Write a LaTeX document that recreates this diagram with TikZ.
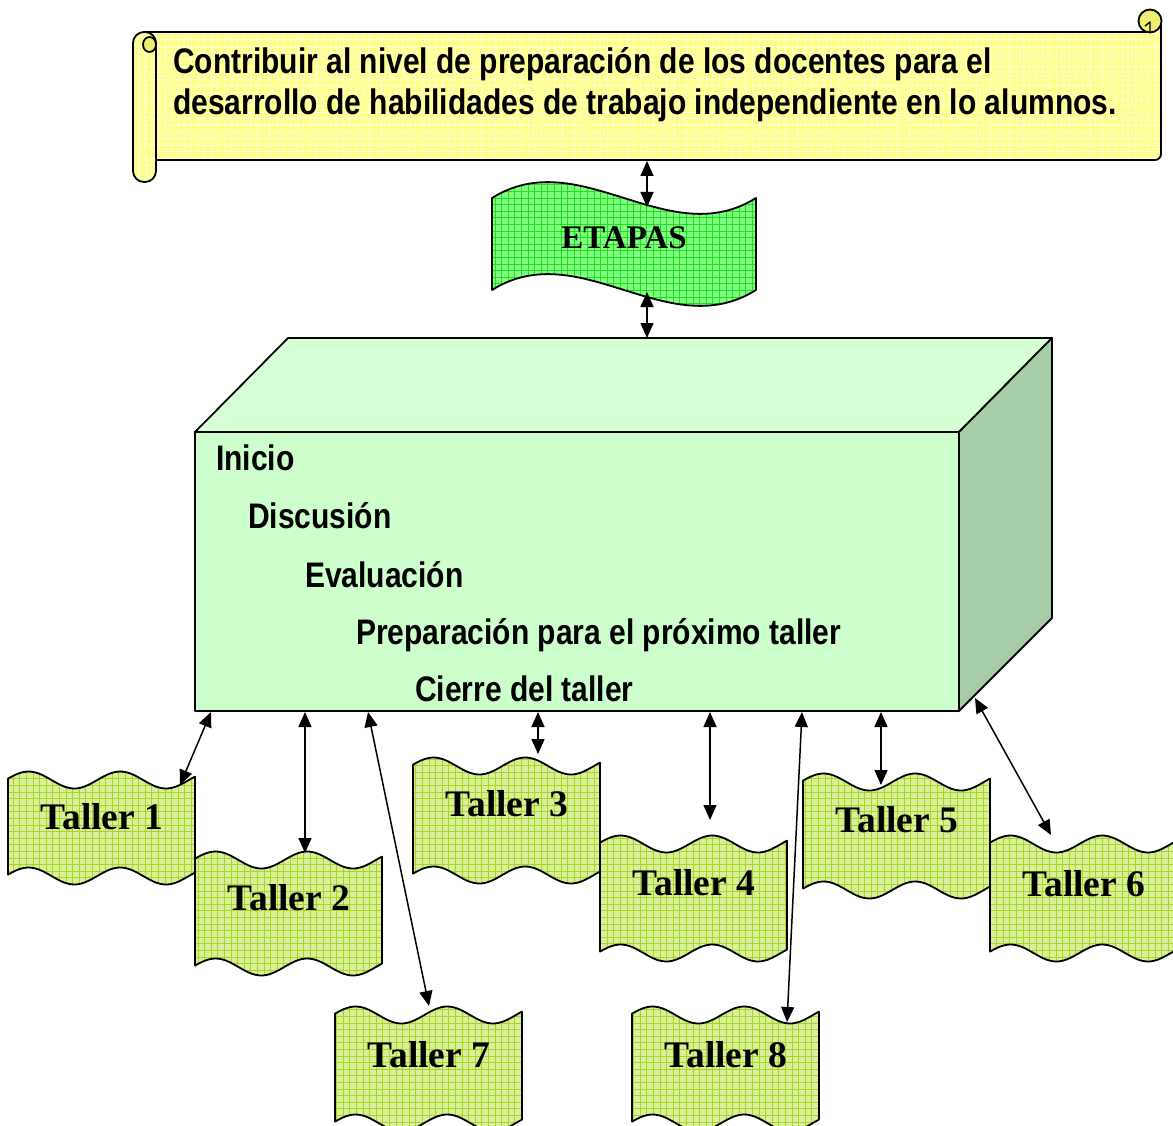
\documentclass[tikz,border=0pt]{standalone}
\usepackage{fontspec}
\usetikzlibrary{arrows.meta}
\newfontfamily\narrowsans[FakeStretch=0.845]{Liberation Sans}
\newfontfamily\serifbold{Liberation Serif}
\definecolor{scrollbase}{HTML}{FFFF8C}
\definecolor{scrollgrid}{HTML}{FFFFD2}
\definecolor{scrollroll}{HTML}{EEEE70}
\definecolor{etapasbase}{HTML}{80FF80}
\definecolor{etapasgrid}{HTML}{22DD22}
\definecolor{tallerbase}{HTML}{D8F09C}
\definecolor{tallergridc}{HTML}{A8D422}
\definecolor{boxfront}{HTML}{CCFFCC}
\definecolor{boxtop}{HTML}{D6FFD6}
\definecolor{boxside}{HTML}{A6CDA6}
\newcommand\tallerdoc[6]{%
  \begin{scope}
    \clip plot[domain=0:1,samples=50] ({#1+187*\x},{#2-wv(\x)}) -- plot[domain=1:0,samples=50] ({#1+187*\x},{#3-wv(\x)}) -- cycle;
    \fill[tallerbase] (#1-2,#2-20) rectangle (#1+190,#3+20);
    \draw[tallergridc,line width=0.7,step=6.6pt] (#1-2,#2-20) grid (#1+190,#3+20);
  \end{scope}
  \draw[outline] plot[domain=0:1,samples=50] ({#1+187*\x},{#2-wv(\x)}) -- plot[domain=1:0,samples=50] ({#1+187*\x},{#3-wv(\x)}) -- cycle;
  \node[tallertext] (#4) at (#1+94,#6) {#5};
}
\begin{document}
\begin{tikzpicture}[x=1pt,y=-1pt,line join=round,
  declare function={wv(\t)=8.5*sin(360*(\t-0.11)/0.49+90);},
  outline/.style={draw=black,line width=1.8},
  link/.style={draw=black,line width=1.5,{Triangle[length=15pt,width=13pt]}-{Triangle[length=15pt,width=13pt]}},
  boxtext/.style={anchor=base west,inner sep=0pt,font=\narrowsans\bfseries\fontsize{35.5}{40}\selectfont},
  tallertext/.style={anchor=base,inner sep=0pt,font=\serifbold\bfseries\fontsize{37.5}{42}\selectfont}]
\useasboundingbox (0,0) rectangle (1173,1126);
\clip (0,0) rectangle (1173,1126);
\fill[white] (0,0) rectangle (1173,1126);

% ---------- scroll banner ----------
\begin{scope}
  \clip (145,32) -- (1161,32) -- (1161,154) arc[start angle=0,end angle=90,radius=6] -- (145,160) -- cycle;
  \fill[scrollbase] (140,20) rectangle (1165,165);
  \draw[scrollgrid,line width=0.8,step=6.6pt] (140,20) grid (1165,165);
\end{scope}
\draw[outline] (145,32) -- (1150,32);
\draw[outline] (1161,21) -- (1161,154) arc[start angle=0,end angle=90,radius=6] -- (150,160);
\draw[outline,fill=scrollroll] (1150,21) circle[radius=11.5];
\draw[outline,line width=1.4] (1145,26) -- (1150,22) -- (1150,32);
% left roll
\begin{scope}
  \clip[rounded corners=11] (133,32) rectangle (156,182);
  \fill[scrollbase] (130,30) rectangle (160,185);
  \draw[scrollgrid,line width=0.8,step=6.6pt] (130,30) grid (160,185);
\end{scope}
\draw[outline,rounded corners=11] (133,32) rectangle (156,182);
\draw[outline,fill=scrollroll] (149.5,44.5) ellipse[x radius=6.5,y radius=7.5];
\node[boxtext] (goal1) at (173,74) {Contribuir al nivel de preparación de los docentes para el};
\node[boxtext] (goal2) at (173,115) {desarrollo de habilidades de trabajo independiente en lo alumnos.};

% ---------- ETAPAS ----------
\begin{scope}
  \clip (492,198) .. controls (580,143) and (668,253) .. (756,198) -- (756,290) .. controls (668,345) and (580,235) .. (492,290) -- cycle;
  \fill[etapasbase] (488,170) rectangle (760,315);
  \draw[etapasgrid,line width=0.7,step=6.6pt] (488,170) grid (760,315);
\end{scope}
\draw[outline] (492,198) .. controls (580,143) and (668,253) .. (756,198) -- (756,290) .. controls (668,345) and (580,235) .. (492,290) -- cycle;
\node[anchor=base,inner sep=0pt,font=\serifbold\bfseries\fontsize{33}{38}\selectfont] (etapas) at (624,249) {ETAPAS};

% ---------- 3D box ----------
\draw[outline,fill=boxtop] (195,432) -- (288,338) -- (1052,338) -- (959,432) -- cycle;
\draw[outline,fill=boxside] (959,432) -- (1052,338) -- (1052,618) -- (959,711) -- cycle;
\draw[outline,fill=boxfront] (195,432) rectangle (959,711);
\node[boxtext] (inicio) at (216,470) {Inicio};
\node[boxtext] (discusion) at (248,528) {Discusión};
\node[boxtext] (evaluacion) at (305,587) {Evaluación};
\node[boxtext] (preparacion) at (356,644) {Preparación para el próximo taller};
\node[boxtext] (cierre) at (415,701) {Cierre del taller};

% ---------- talleres ----------
\tallerdoc{8}{780}{876}{t1}{Taller 1}{829}
\tallerdoc{195}{860}{967}{t2}{Taller 2}{910}
\tallerdoc{413}{766}{875}{t3}{Taller 3}{816}
\tallerdoc{600}{844}{953}{t4}{Taller 4}{895}
\tallerdoc{803}{782}{890}{t5}{Taller 5}{832}
\tallerdoc{990}{844}{953}{t6}{Taller 6}{896}
\tallerdoc{335}{1015}{1123}{t7}{Taller 7}{1067}
\tallerdoc{632}{1015}{1123}{t8}{Taller 8}{1067}

% ---------- connector end points ----------
\coordinate (sTop) at (647,161);
\coordinate (eTop) at (647,207);
\coordinate (eBot) at (647,292);
\coordinate (bTop) at (647,338);
\coordinate (b1) at (211,712);  \coordinate (c1) at (180,785);
\coordinate (b2) at (305,712);  \coordinate (c2) at (305,853);
\coordinate (b7) at (368,712);  \coordinate (c7) at (429,1006);
\coordinate (b3) at (538,712);  \coordinate (c3) at (538,754);
\coordinate (b4) at (710,712);  \coordinate (c4) at (710,820);
\coordinate (b8) at (802,712);  \coordinate (c8) at (787,1022);
\coordinate (b5) at (881,712);  \coordinate (c5) at (881,785);
\coordinate (b6) at (975,698);  \coordinate (c6) at (1051,835);

\draw[link] (sTop) -- (eTop);
\draw[link] (eBot) -- (bTop);
\draw[link] (b1) -- (c1);
\draw[link] (b2) -- (c2);
\draw[link] (b7) -- (c7);
\draw[link] (b3) -- (c3);
\draw[link] (b4) -- (c4);
\draw[link] (b8) -- (c8);
\draw[link] (b5) -- (c5);
\draw[link] (b6) -- (c6);
\end{tikzpicture}
\end{document}
